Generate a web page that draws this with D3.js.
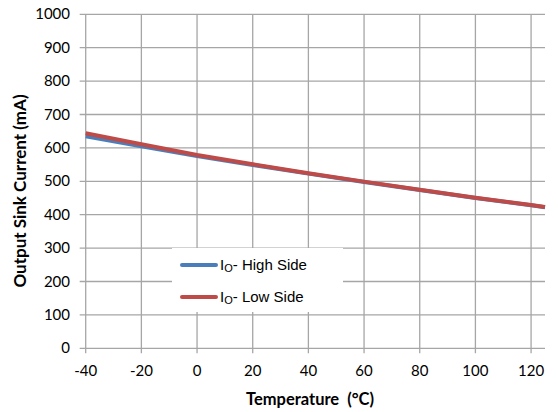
<!DOCTYPE html>
<html>
<head>
<meta charset="utf-8">
<script src="https://cdn.jsdelivr.net/npm/d3@7"></script>
<style>
  body { margin: 0; background: #fff; }
  text { fill: #000; }
</style>
</head>
<body>
<div id="chart"></div>
<script>
// données
var temps = [-40, -20, 0, 20, 40, 60, 80, 100, 120, 125];
var highSide = [635, 605, 576, 549, 523, 498, 474, 450, 428, 422];
var lowSide = [644, 611, 579, 551, 524, 499, 475, 451, 429, 423];
var xTicks = [-40, -20, 0, 20, 40, 60, 80, 100, 120];
var yTicks = [0, 100, 200, 300, 400, 500, 600, 700, 800, 900, 1000];
var seriesNames = ["High Side", "Low Side"];
var seriesColors = ["#4a7ebb", "#be4b48"];

var width = 558, height = 412;
var mLeft = 85.7, mRight = 545, mTop = 14.3, mBottom = 348.3;

var svg = d3.select("#chart").append("svg")
  .attr("width", width).attr("height", height);

var x = d3.scaleLinear().domain([-40, 125]).range([mLeft, mRight]);
var y = d3.scaleLinear().domain([0, 1000]).range([mBottom, mTop]);

var grid = svg.append("g");
// grille horizontale + petits traits à gauche
grid.selectAll(".hg").data(yTicks).enter().append("line")
  .attr("x1", mLeft - 6).attr("x2", mRight)
  .attr("y1", function (d) { return y(d); }).attr("y2", function (d) { return y(d); })
  .attr("stroke", "#a6a6a6").attr("stroke-width", 1.3);
// grille verticale + petits traits en bas
grid.selectAll(".vg").data(xTicks).enter().append("line")
  .attr("x1", function (d) { return x(d); }).attr("x2", function (d) { return x(d); })
  .attr("y1", mTop).attr("y2", mBottom + 5)
  .attr("stroke", "#a6a6a6").attr("stroke-width", 1.3);

// étiquettes des axes
svg.selectAll(".yl").data(yTicks).enter().append("text")
  .attr("x", 70).attr("y", function (d) { return y(d) + 5; })
  .attr("text-anchor", "end")
  .style("font", "15px Lato, 'Open Sans', sans-serif")
  .text(function (d) { return d; });

svg.selectAll(".xl").data(xTicks).enter().append("text")
  .attr("x", function (d) { return x(d); }).attr("y", 376)
  .attr("text-anchor", "middle")
  .style("font", "15px Lato, 'Open Sans', sans-serif")
  .text(function (d) { return d; });

svg.append("text")
  .attr("x", 310).attr("y", 405)
  .attr("text-anchor", "middle")
  .style("font", "bold 16.5px Lato, 'Open Sans', sans-serif")
  .attr("xml:space", "preserve")
  .text("Temperature  (°C)");

svg.append("text")
  .attr("transform", "translate(26," + 191 + ") rotate(-90)")
  .attr("text-anchor", "middle")
  .style("font", "bold 17px Lato, 'Open Sans', sans-serif")
  .text("Output Sink Current (mA)");

// courbes
var line = d3.line()
  .x(function (d) { return x(d[0]); })
  .y(function (d) { return y(d[1]); });

[highSide, lowSide].forEach(function (vals, i) {
  svg.append("path")
    .datum(temps.map(function (t, j) { return [t, vals[j]]; }))
    .attr("d", line)
    .attr("fill", "none")
    .attr("stroke", seriesColors[i])
    .attr("stroke-width", 4)
    .attr("stroke-linejoin", "round");
});

// légende
var leg = svg.append("g");
leg.append("rect")
  .attr("x", 172).attr("y", 248).attr("width", 171).attr("height", 64)
  .attr("fill", "#fff");
seriesNames.forEach(function (name, i) {
  var ly = 265 + i * 32;
  leg.append("line")
    .attr("x1", 182).attr("x2", 216).attr("y1", ly).attr("y2", ly)
    .attr("stroke", seriesColors[i]).attr("stroke-width", 4)
    .attr("stroke-linecap", "round");
  var t = leg.append("text")
    .attr("x", 220).attr("y", ly + 5)
    .style("font", "15px 'Liberation Sans', Arial, sans-serif");
  t.append("tspan").text("I");
  t.append("tspan").attr("dy", 2).style("font-size", "11px").text("O");
  t.append("tspan").attr("dy", -2).text("- " + name);
});
</script>
</body>
</html>
